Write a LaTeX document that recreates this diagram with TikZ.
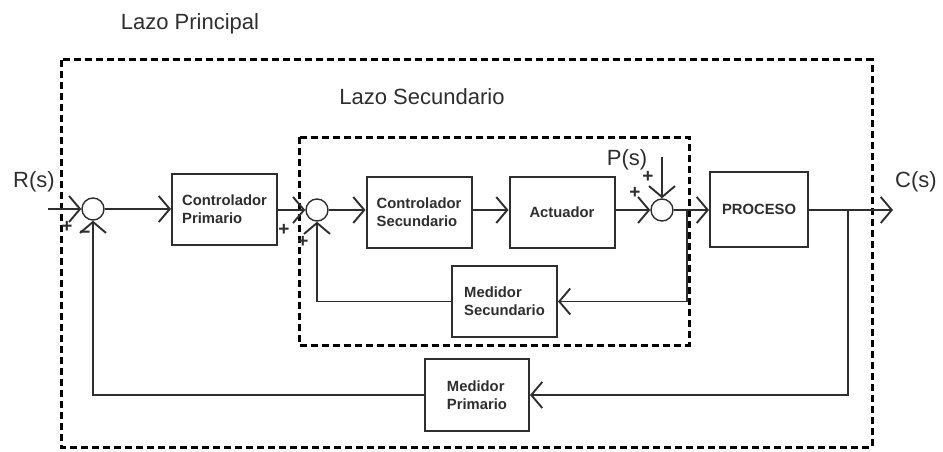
\documentclass[tikz,border=0pt]{standalone}
\usepackage{fontspec}
\setmainfont{Liberation Sans}
\usetikzlibrary{arrows.meta}
\definecolor{ink}{HTML}{2E2E2E}
\tikzset{
  blk/.style={draw=ink, line width=2pt, minimum width=105pt, minimum height=71pt,
    inner sep=0pt, align=left, font=\fontsize{14.8}{18}\selectfont\bfseries, text=ink},
  sumj/.style={circle, draw=ink, line width=1.4pt, minimum size=22pt, inner sep=0pt},
  sig/.style={draw=ink, line width=1.9pt},
  arr/.style={sig, -{Straight Barb[length=11pt,width=26pt]}},
  frame/.style={draw=black, line width=3pt, dash pattern=on 7pt off 4pt},
  lbl/.style={font=\fontsize{22}{26}\selectfont, text=ink, inner sep=0pt},
  sgn/.style={font=\fontsize{19}{21}\selectfont\bfseries, text=ink, inner sep=0pt}
}
\begin{document}
\begin{tikzpicture}[x=1pt, y=-1pt]
\useasboundingbox (0,0) rectangle (943,452);

% loop frames
\draw[frame] (61,60) rectangle (872,447);
\draw[frame] (299,137) rectangle (689,345);
\node[lbl] (lp) at (190,24) {Lazo Principal};
\node[lbl] (ls) at (422,97) {Lazo Secundario};

% forward path
\node[sumj] (s1) at (93,209) {};
\node[blk] (cp) at (224.5,209.5) {Controlador\\Primario};
\node[sumj] (s2) at (317,210) {};
\node[blk] (cs) at (419,212) {Controlador\\Secundario};
\node[blk] (act) at (562,212) {Actuador};
\node[sumj] (s3) at (662,210) {};
\node[blk, minimum width=98pt, minimum height=75pt] (proc) at (759,209.5) {PROCESO};

% measuring elements
\node[blk] (ms) at (504.5,301.5) {Medidor\\Secundario};
\node[blk, minimum width=104pt, minimum height=72pt] (mp) at (477,395) {Medidor\\Primario};

% terminals and branch points
\coordinate (rin) at (48,209);
\coordinate (cout) at (893,210);
\coordinate (pin) at (662,157);
\coordinate (b1) at (848,210);
\coordinate (b2) at (687,210);
\node[lbl] (rs) at (34,182) {R(s)};
\node[lbl] (csl) at (916,182) {C(s)};
\node[lbl] (ps) at (627,160) {P(s)};

% signals
\draw[arr] (rin) -- (s1.west);
\draw[arr] (s1.east) -- (cp.west |- s1.east);
\draw[arr] (cp.east |- s2.west) -- (s2.west);
\draw[arr] (s2.east) -- (cs.west |- s2.east);
\draw[arr] (cs.east |- 0,210) -- (act.west |- 0,210);
\draw[arr] (act.east |- s3.west) -- (s3.west);
\draw[arr] (pin) -- (s3.north);
\draw[arr] (s3.east) -- (proc.west |- s3.east);
\draw[arr] (proc.east |- cout) -- (cout);

% feedback loops
\draw[arr] (b1) -- (b1 |- mp.east) -- (mp.east);
\draw[arr] (mp.west) -- (s1 |- mp.west) -- (s1.south);
\draw[arr] (b2) -- (b2 |- ms.east) -- (ms.east);
\draw[arr] (ms.west) -- (s2 |- ms.west) -- (s2.south);

% signs
\node[sgn] (p1) at (67,227) {+};
\node[sgn] (m1) at (85,235) {\textminus};
\node[sgn] (p2) at (284,230) {+};
\node[sgn] (p3) at (303,242) {+};
\node[sgn] (p4) at (648,177) {+};
\node[sgn] (p5) at (635,193) {+};
\end{tikzpicture}
\end{document}
